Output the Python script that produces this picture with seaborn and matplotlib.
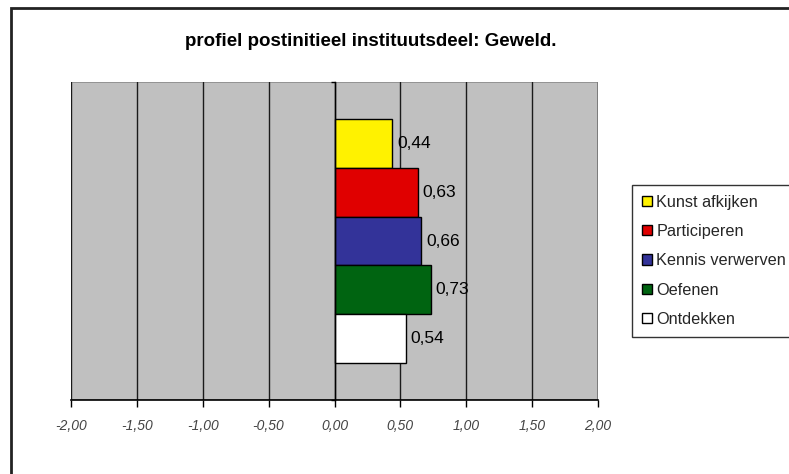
import matplotlib
matplotlib.use("Agg")
import matplotlib.pyplot as plt
from matplotlib.patches import Rectangle
import seaborn as sns
import pandas as pd

# Profile scores per learning activity
reeksen = ["Kunst afkijken", "Participeren", "Kennis verwerven", "Oefenen", "Ontdekken"]
waarden = [0.44, 0.63, 0.66, 0.73, 0.54]
kleuren = ["#FFF200", "#E00000", "#333399", "#006411", "#FFFFFF"]
x_ticks = [-2.0, -1.5, -1.0, -0.5, 0.0, 0.5, 1.0, 1.5, 2.0]
titel = "profiel postinitieel instituutsdeel: Geweld."

df = pd.DataFrame({"groep": ["Geweld"] * len(reeksen), "reeks": reeksen, "waarde": waarden})

sns.set_style("white")
plt.rcParams["font.family"] = ["Liberation Sans", "DejaVu Sans"]

fig = plt.figure(figsize=(7.89, 4.74), dpi=100)
ax = fig.add_axes([71 / 789, 1 - 400 / 474, (598 - 71) / 789, (400 - 82) / 474])
ax.set_facecolor("#C0C0C0")

sns.barplot(data=df, x="waarde", y="groep", hue="reeks", hue_order=reeksen,
            palette=kleuren, saturation=1, orient="h", dodge=True, width=0.77,
            edgecolor="black", linewidth=1.0, ax=ax, zorder=3)

ax.set_xlim(-2, 2)
ax.set_ylim(0.5, -0.5)
ax.set_xticks(x_ticks)
ax.set_xticklabels([f"{t:.2f}".replace(".", ",") for t in x_ticks],
                   fontstyle="italic", fontsize=10, color="#444444")
ax.tick_params(axis="x", direction="out", length=5, width=1, color="black", pad=9, bottom=True)
ax.xaxis.grid(True, color="#1a1a1a", linewidth=1.0, zorder=1)
ax.set_axisbelow(True)

# category axis at zero
ax.spines["left"].set_position(("data", 0))
ax.spines["left"].set_color("black")
ax.spines["left"].set_linewidth(1.0)
ax.spines["left"].set_zorder(4)
ax.set_yticks([-0.5, 0.5])
ax.set_yticklabels([])
ax.tick_params(axis="y", direction="out", length=3, width=1, color="black", left=True)
ax.spines["bottom"].set_color("black")
ax.spines["bottom"].set_linewidth(1.2)
for s in ("top", "right"):
    ax.spines[s].set_visible(False)
ax.add_patch(Rectangle((0, 0), 1, 1, transform=ax.transAxes, fill=False,
                       edgecolor="#8c8c8c", linewidth=1.2, zorder=0.5))
ax.set_xlabel("")
ax.set_ylabel("")

for cont, v in zip(ax.containers, waarden):
    ax.bar_label(cont, labels=[f"{v:.2f}".replace(".", ",")], padding=3.5,
                 fontsize=12.5, color="black")

handles, labels = ax.get_legend_handles_labels()
if ax.legend_:
    ax.legend_.remove()
leg = fig.legend(handles, labels, loc="upper left",
                 bbox_to_anchor=(632 / 789, 1 - 185 / 474), borderaxespad=0,
                 frameon=True, fancybox=False, shadow=False, fontsize=11.7,
                 handlelength=0.6, handleheight=0.6, handletextpad=0.3,
                 labelspacing=0.88, borderpad=0.6)
leg.get_frame().set_edgecolor("black")
leg.get_frame().set_linewidth(1.0)
for h in leg.legend_handles:
    h.set_edgecolor("black")
    h.set_linewidth(1.0)

fig.text(371 / 789, 1 - 42 / 474, titel, ha="center", va="center",
         fontsize=13.5, fontweight="bold", color="black")

fig.add_artist(Rectangle((11 / 789, -0.02), 1.0, 1.02 - 8 / 474, transform=fig.transFigure,
                         fill=False, edgecolor="#222222", linewidth=2))

fig.savefig("out.png", dpi=100)
